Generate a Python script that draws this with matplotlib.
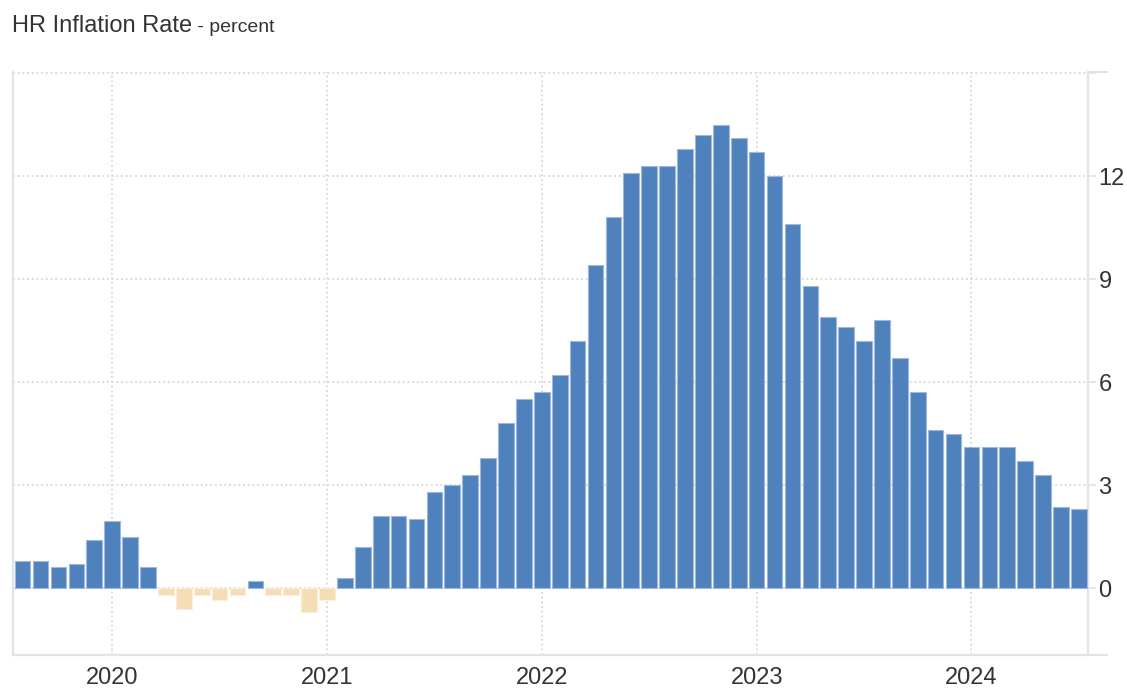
import matplotlib
matplotlib.use("Agg")
import matplotlib.pyplot as plt
import numpy as np

plt.rcParams['font.family'] = ['Liberation Sans', 'DejaVu Sans']

# Monthly data: Aug 2019 .. Jul 2024
start_year = 2019
start_month = 8
values = [
    0.8, 0.8, 0.6, 0.7, 1.4,                                           # 2019 Aug-Dec
    1.95, 1.5, 0.6, -0.2, -0.6, -0.2, -0.35, -0.2, 0.2, -0.2, -0.2, -0.7,  # 2020
    -0.35, 0.3, 1.2, 2.1, 2.1, 2.0, 2.8, 3.0, 3.3, 3.8, 4.8, 5.5,      # 2021
    5.7, 6.2, 7.2, 9.4, 10.8, 12.1, 12.3, 12.3, 12.8, 13.2, 13.5, 13.1,  # 2022
    12.7, 12.0, 10.6, 8.8, 7.9, 7.6, 7.2, 7.8, 6.7, 5.7, 4.6, 4.5,     # 2023
    4.1, 4.1, 4.1, 3.7, 3.3, 2.35, 2.3,                                # 2024 Jan-Jul
]
y_ticks = [0, 3, 6, 9, 12, 15]
y_tick_labels = ['0', '3', '6', '9', '12', '']
title_main = "HR Inflation Rate"
title_sub = " - percent"

pos_color = '#4F81BD'
neg_color = '#F5DDB5'
grid_color = '#dadada'
spine_color = '#e3e3e3'
text_color = '#333333'

n = len(values)
idx = np.arange(n)
months = [(start_month - 1 + i) % 12 + 1 for i in range(n)]
years = [start_year + (start_month - 1 + i) // 12 for i in range(n)]

W, H = 1127, 688
fig = plt.figure(figsize=(W / 100, H / 100), dpi=100)
ax = fig.add_axes([13 / W, 33 / H, 1075 / W, 583 / H])

vals = np.array(values)
colors = [pos_color if v >= 0 else neg_color for v in vals]
edges = ['#9db8dc' if v >= 0 else '#fbeedc' for v in vals]
ax.bar(idx, vals, width=0.875, color=colors, edgecolor=edges, linewidth=0.8, zorder=3)

ax.set_xlim(-0.54, n - 0.49)
ax.set_ylim(-1.95, 15.03)

year_idx = [i for i in range(n) if months[i] == 1]
ax.set_xticks(year_idx)
ax.set_xticklabels([str(years[i]) for i in year_idx])
ax.set_yticks(y_ticks)
ax.set_yticklabels(y_tick_labels)

ax.yaxis.tick_right()
ax.tick_params(axis='y', which='both', length=6, width=1.2, color=spine_color,
               pad=1.5, labelsize=17, labelcolor=text_color)
ax.tick_params(axis='x', which='both', length=0, pad=9, labelsize=17,
               labelcolor=text_color)

ax.grid(True, axis='both', color=grid_color, linestyle=(0, (1.1, 1.5)),
        linewidth=1.3, zorder=0)
ax.set_axisbelow(True)

ax.spines['top'].set_visible(False)
for s in ['left', 'right', 'bottom']:
    ax.spines[s].set_color(spine_color)
    ax.spines[s].set_linewidth(1.6)

# extended top/bottom edge strokes beyond the right axis
for yy in (0, 1):
    ax.plot([1, 1.018], [yy, yy], transform=ax.transAxes, clip_on=False,
            color=spine_color, linewidth=1.4, zorder=1)

# Title
t1 = fig.text(12 / W, 1 - 32 / H, title_main, fontsize=17, color=text_color,
              ha='left', va='baseline')
fig.canvas.draw()
bb = t1.get_window_extent(renderer=fig.canvas.get_renderer())
fig.text(bb.x1 / W, 1 - 32 / H, title_sub, fontsize=14, color=text_color,
         ha='left', va='baseline')

fig.savefig('out.png', dpi=100)
